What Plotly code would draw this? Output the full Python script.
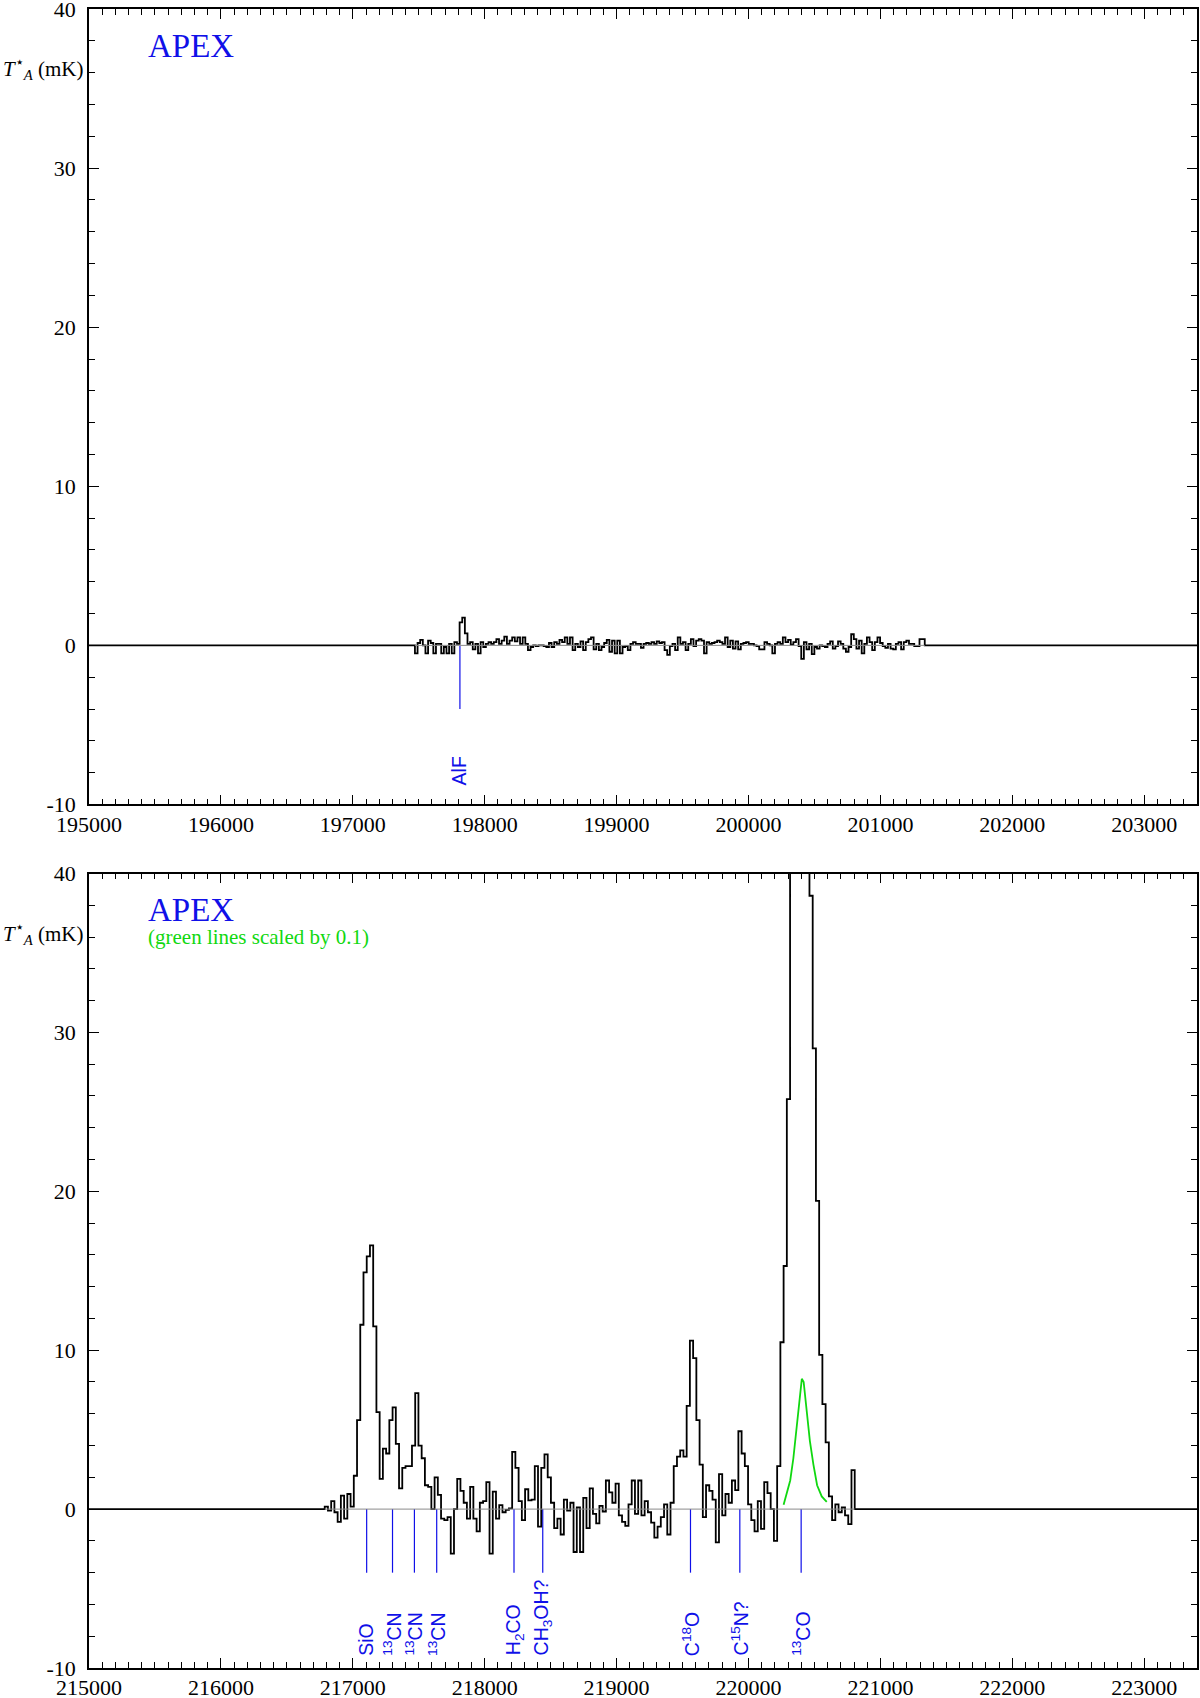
import numpy as np
import plotly.graph_objects as go

# ------------------------------------------------------------------
# data (T_A* in mK, frequencies in MHz)
# ------------------------------------------------------------------

# upper band: channel edges run evenly from TOP_START to TOP_END
TOP_START = 197471.0
TOP_END = 201336.0
top_tmb = [
    -0.5, 0.15, 0.35, 0.0, -0.5, 0.3, 0.15, -0.5, 0.1, 0.1,
    -0.5, -0.1, -0.5, 0.1, -0.5, 0.2, 0.1, 1.45, 1.75, 0.75,
    0.1, 0.2, -0.25, 0.1, -0.5, 0.2, -0.1, 0.1, 0.2, 0.1,
    0.2, 0.4, 0.1, 0.3, 0.55, 0.1, 0.3, 0.5, 0.25, 0.5,
    0.1, 0.5, 0.1, -0.3, -0.1, 0.0, -0.05, 0.0, 0.0, -0.05,
    -0.1, 0.15, -0.1, 0.2, 0.1, 0.35, 0.2, 0.5, 0.1, 0.5,
    -0.3, 0.1, -0.1, 0.25, -0.3, 0.2, 0.4, 0.5, -0.25, 0.1,
    -0.3, -0.1, 0.15, 0.35, -0.4, 0.3, -0.5, 0.3, -0.5, -0.1,
    -0.05, -0.3, 0.1, 0.2, 0.1, 0.1, -0.15, 0.1, 0.15, 0.1,
    0.2, 0.1, 0.25, 0.15, 0.2,
    -0.3, -0.6, -0.05, 0.1, -0.3, 0.5, 0.1, 0.2, -0.3, 0.1,
    0.4, -0.05, 0.3, 0.4, 0.3, -0.5, 0.2, 0.1, 0.15, 0.2,
    0.3, 0.2, 0.1, 0.5, -0.1, 0.3, -0.2, 0.25, -0.25, 0.1,
    0.15, 0.2, 0.1, 0.1, 0.0, -0.05, -0.25, -0.25, 0.2, 0.1,
    0.0, -0.5, 0.1, 0.2, 0.1, 0.5, 0.2, 0.35, 0.05, 0.2,
    0.4, -0.05, -0.85, 0.2, -0.25, 0.1, -0.55, -0.1, -0.2, 0.0,
    -0.05, -0.1, 0.1, 0.25, -0.2, -0.05, 0.25, 0.1, -0.2, -0.4,
    -0.1, 0.7, 0.4, -0.2, 0.3, -0.5, 0.1, 0.5, 0.2, -0.3,
    0.2, 0.5, 0.15, -0.05, -0.15, 0.1, -0.2, -0.25, 0.1, 0.2,
    -0.25, 0.2, 0.3, 0.1, 0.1, -0.05, -0.05, 0.4, 0.4,
]

# lower band: first channel edge and channel width
BOT_START = 216787.0
BOT_CHAN = 24.5
bot_tmb = [
    0.15, -0.1, 0.5, -0.2, -0.8, 0.85, -0.6, 0.95, 0.15, 2.1,
    5.6, 11.6, 14.9, 15.9, 16.6, 11.5, 6.1, 1.9, 3.8, 3.5,
    5.6, 6.4, 4.1, 1.3, 2.6, 2.7, 2.7, 4.0, 7.3, 4.0,
    3.2, 1.5, 1.4, 0.0, 2.0, 0.9, -0.6, -0.7, -0.5, -2.8,
    0.0, 1.9, 1.15, 0.4, -0.6, 1.4, -0.6, -1.4, 0.4, 0.5,
    1.7, -2.8, 1.1, -0.6, 0.25, -0.2, -0.05, 0.05, 3.6, 2.6,
    0.5, -0.7, 1.25, 0.55, 0.6, 2.7, -1.1, 2.6, 3.45, 2.0,
    0.4, -1.2, -0.6, -1.6, 0.6, -0.1, 0.4, -2.7, 0.1, -2.7,
    0.7, -1.2, 1.3, -0.3, -0.9, 0.2, -0.15, 1.8, 1.05, 0.4,
    1.6, -0.4, -0.8, -1.05, 0.3, 1.8, -0.3, 1.8, -0.4, 0.5,
    -0.2, -0.85, -1.8, -1.1, -0.5, 0.3, -1.6, 0.4, 2.7, 3.3,
    3.7, 3.3, 6.5, 10.6, 9.5, 5.6, 2.8, -0.5, 1.5, 1.15,
    0.6, -2.1, 2.2, -0.4, 0.95, 0.4, 1.8, 1.2, 4.9, 3.5,
    2.7, 0.3, -0.7, -1.4, 0.5, -1.25, 1.7, 1.0, 0.0, -2.0,
    2.7, 10.5, 15.3, 25.8, 44, 60, 76, 82, 66, 48,
    38.6, 29.0, 19.4, 9.7, 6.6, 4.2, 0.8, -0.7, 0.3, -0.2,
    0.1, -0.4, -0.95, 2.45,
]

# 13CO profile scaled by 0.1 (green)
green_freq = [220266, 220290, 220316, 220340, 220365, 220390, 220404,
              220418, 220440, 220465, 220492, 220520, 220555, 220593]
green_tmb = [0.27, 1.0, 1.8, 3.2, 5.2, 7.3, 8.2,
             8.0, 6.2, 4.3, 2.8, 1.5, 0.8, 0.46]

# line identifications
top_line_freq = [197812]
top_line_name = ["AlF"]
bot_line_freq = [217105, 217301, 217467, 217636, 218222, 218440, 219560, 219934, 220399]
bot_line_name = ["SiO", "<sup>13</sup>CN", "<sup>13</sup>CN", "<sup>13</sup>CN",
                 "H<sub>2</sub>CO", "CH<sub>3</sub>OH?", "C<sup>18</sup>O",
                 "C<sup>15</sup>N?", "<sup>13</sup>CO"]

X_RANGES = [(195000, 203400), (215000, 223400)]
Y_RANGE = (-10, 40)
Y_TICKS = [-10, 0, 10, 20, 30, 40]

# ------------------------------------------------------------------
# styling
# ------------------------------------------------------------------
SERIF = "Liberation Serif, Times New Roman, serif"
SANS = "Liberation Sans, Arial, sans-serif"
BLUE = "#1010e8"
GREEN = "#10d810"
TICK_DEPTH = -4.0           # line-ID markers drop from 0 to this level
LABEL_Y = [-8.9, -9.35]     # bottom of the rotated line names

W, H = 1200, 1698
DOMAINS = [(0.5205, 1.0), (0.0, 0.4789)]


def step_xy(edges, vals, xlo, xhi):
    x = [xlo] + list(edges) + [xhi]
    y = [0.0] + list(vals) + [0.0, 0.0]
    return x, y


top_edges = np.linspace(TOP_START, TOP_END, len(top_tmb) + 1)
bot_edges = BOT_START + BOT_CHAN * np.arange(len(bot_tmb) + 1)

panels = [
    dict(edges=top_edges, vals=top_tmb, lines=top_line_freq, names=top_line_name),
    dict(edges=bot_edges, vals=bot_tmb, lines=bot_line_freq, names=bot_line_name),
]

fig = go.Figure()
annotations = []
shapes = []

for i, p in enumerate(panels):
    xa = "x" if i == 0 else "x2"
    ya = "y" if i == 0 else "y2"
    xlo, xhi = X_RANGES[i]

    # thin grey zero line under the spectrum
    shapes.append(dict(type="line", xref=xa, yref=ya, x0=p["edges"][0], x1=p["edges"][-1],
                       y0=0, y1=0, line=dict(color="#8a8a8a", width=1), layer="above"))

    # line-ID ticks
    mx, my = [], []
    for f in p["lines"]:
        mx += [f, f, None]
        my += [0, TICK_DEPTH, None]
    fig.add_trace(go.Scatter(x=mx, y=my, mode="lines", xaxis=xa, yaxis=ya,
                             line=dict(color=BLUE, width=1.2), hoverinfo="skip"))

    # spectrum histogram
    sx, sy = step_xy(p["edges"], p["vals"], xlo, xhi)
    fig.add_trace(go.Scatter(x=sx, y=sy, mode="lines", xaxis=xa, yaxis=ya,
                             line=dict(color="black", width=1.8, shape="hv")))

    for f, name in zip(p["lines"], p["names"]):
        annotations.append(dict(x=f, y=LABEL_Y[i], xref=xa, yref=ya, text=name,
                                textangle=-90, showarrow=False, xanchor="center",
                                yanchor="bottom", font=dict(family=SANS, size=19.5, color=BLUE)))

    dref = xa + " domain"
    annotations.append(dict(x=0.0514, y=37.7, xref=dref, yref=ya, text="APEX", showarrow=False,
                            xanchor="left", yanchor="middle",
                            font=dict(family=SERIF, size=33, color=BLUE)))
    annotations.append(dict(x=-0.004, y=36.25, xref=dref, yref=ya,
                            text="<i>T</i><sup>\u22c6</sup><sub><i>A</i></sub> (mK)",
                            showarrow=False, xanchor="right", yanchor="middle",
                            font=dict(family=SERIF, size=21, color="black")))

# green 13CO profile (scaled by 0.1) in the lower band
fig.add_trace(go.Scatter(x=green_freq, y=green_tmb, mode="lines", xaxis="x2", yaxis="y2",
                         line=dict(color=GREEN, width=1.8)))
annotations.append(dict(x=0.0514, y=36.0, xref="x2 domain", yref="y2",
                        text="(green lines scaled by 0.1)", showarrow=False,
                        xanchor="left", yanchor="middle",
                        font=dict(family=SERIF, size=21, color=GREEN)))

axis_common = dict(showline=True, linecolor="black", linewidth=1.6, mirror="ticks",
                   ticks="inside", tickcolor="black", tickwidth=1.4, ticklen=10,
                   showgrid=False, zeroline=False, automargin=False,
                   ticklabeloverflow="allow",
                   tickfont=dict(family=SERIF, size=22, color="black"))

layout = dict(width=W, height=H, paper_bgcolor="white", plot_bgcolor="white",
              margin=dict(l=89, r=3, t=9, b=30, autoexpand=False), showlegend=False,
              annotations=annotations, shapes=shapes)

for i in range(2):
    xk = "xaxis" if i == 0 else "xaxis2"
    yk = "yaxis" if i == 0 else "yaxis2"
    xlo, xhi = X_RANGES[i]
    layout[xk] = dict(axis_common, range=[xlo, xhi], tick0=xlo, dtick=1000, tickformat="d",
                      anchor="y" if i == 0 else "y2", ticklabelstandoff=-1,
                      minor=dict(dtick=100, ticklen=6, ticks="inside",
                                 tickcolor="black", tickwidth=1.3))
    layout[yk] = dict(axis_common, range=list(Y_RANGE), domain=list(DOMAINS[i]),
                      tickmode="array", tickvals=Y_TICKS, ticktext=[str(v) for v in Y_TICKS],
                      anchor="x" if i == 0 else "x2", ticklabelstandoff=7,
                      minor=dict(dtick=2, ticklen=6, ticks="inside",
                                 tickcolor="black", tickwidth=1.3))

fig.update_layout(**layout)
# the page body has a default 8px margin; drop it so the figure sits at the window corner
fig.write_html("out.html", config={"displayModeBar": False},
               post_script="document.body.style.margin = '0';")
